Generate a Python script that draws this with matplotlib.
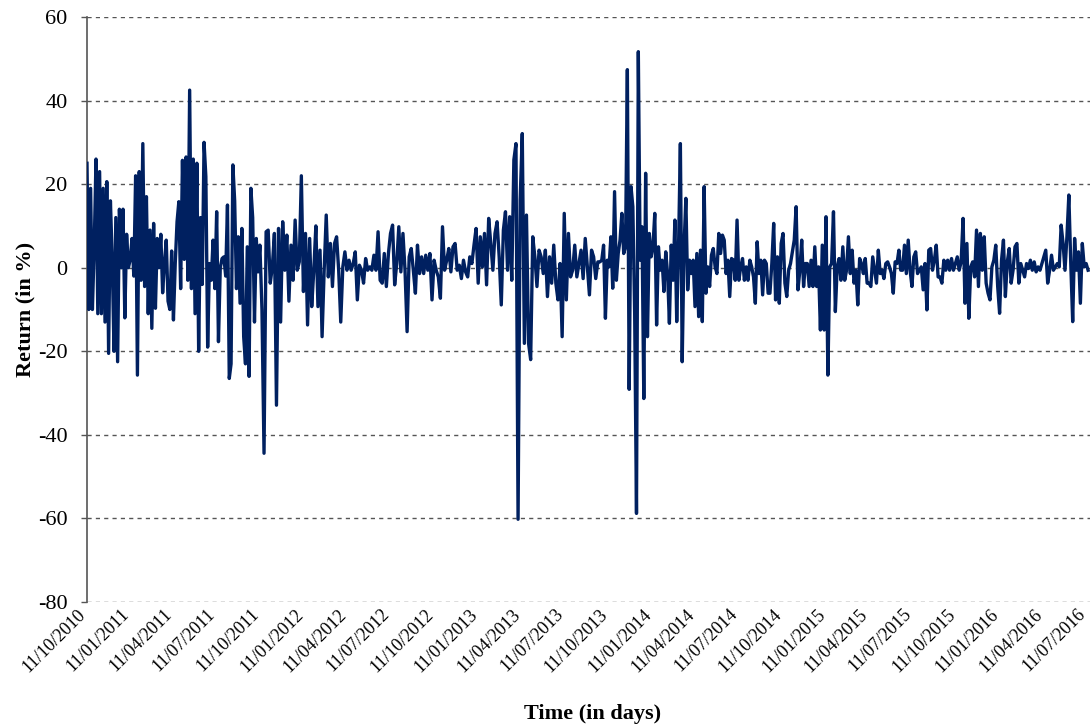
import numpy as np
import pandas as pd
import matplotlib
matplotlib.use('Agg')
import matplotlib.pyplot as plt
import matplotlib.transforms as mtransforms

plt.rcParams['font.family'] = ['Liberation Serif', 'DejaVu Serif']

# daily returns (in %), one list per stretch of time
ret_oct10_oct11 = [25, -10, 19, -10, 5, 26, -11, 23, -11, 19, -13, 20.6, -20.5, 16, 2, -20,
                   12, -22.5, 14, 0, 14, -12, 8, 0, 2, 7, -2, 22, -25.7, 23, -3, 29.7, -4.5,
                   17, -11, 9, -14.5, 10.6, -9.7, 7, 0, 8, -6, 1, 6.6, -8, -10, 4, -12.5, 1,
                   11, 15.8, -5, 25.7, 2, 26.5, -3, 42.5, -5, 26, -11, 25, -20, 12, -4, 30,
                   21.8, -19, 1, -3, 6.6, -5, 13.4, -17.7, 0, 2.2, 2.6, -2, 15, -26.5, -23,
                   24.6, 16, -5, 7.4, -8.5, 9.4, -16.5, -23, 5, -26, 19, 12, -13, 7, -1]
ret_oct11_sep12 = [5.4, -10, -44.4, 8.6, 9, -3.7, 0.2, 8.2, -32.9, 9.4, -13, 11, -0.6, 7.8,
                   -8, 5.4, -3, 11.4, -0.6, 1.4, 22, -5.7, 8.2, -13.7, 7, -9.3, -0.6, 10,
                   -9.3, 4.2, -16.5, -0.6, 12.6, -2.2, 5.8, -4.5, 5.8, 7.4, -0.6, -13, 0.2,
                   3.8, -0.6, 1.8, -0.6, 1, 3.8, -7.7, 0.6, -0.6, -3.7, 2.2, -0.6, 0.2, -0.6,
                   3, -0.6, 8.6, -3, -3.7, 3.4, -4.5, 3.4, 8.2, 10.2, -4.1, 1, 9.8, -1, 8.2,
                   -0.6, -15.3, 2.6, 4.6, -0.6, -6.1, 5.4, -1.4, 2.6, -1.4, 3, -0.6]
ret_sep12_sep13 = [3.4, -7.7, 1.8, -0.6, -2.2, -7.3, 9.8, -0.6, 1.8, 4.6, -1, 5, 5.8, -0.6,
                   0.6, -2.6, 1.8, -1, -2.2, 2.6, 1, 5.4, 9.4, -3.7, 7.4, 0.2, 8.2, -4.1,
                   11.8, 5.8, -0.6, 8.2, 11, 2.6, -8.9, 9, 13.4, -0.6, 12.2, -3, 25.8, 29.7,
                   -60.2, 16.2, 32.1, -18.1, 12.6, -18.1, -22, 7.4, 2.6, -4.5, 4.2, 2.6, -1.4,
                   4.2, -6.9, 2.6, -3.7, 5.4, -3.7, -7.7, 1, -16.5, 13, -7.7, 8.2, -2.2, -0.6,
                   5.4, -2.2, 1, 4.2, -2.6, 7, 0.2, -6.5, 4.2, 2.6, -2.6, 1.4]
ret_sep13_sep14 = [1.4, 1.8, 5.4, -12.1, 1.8, 0.2, 7.4, -4.9, 18.2, -3, 3.4, 6.6, 13, 3.4, 5,
                   47.4, -29.1, 19.4, 14.6, -10.9, -58.8, 51.7, 1.8, 9.8, -31.3, 22.6, -16.5,
                   8.2, 2.6, 5, 13, -13.7, 5, -0.6, 1.8, -5.7, 3.8, -1.4, -13.3, 5.4, -3,
                   11.4, -12.9, 5, 29.7, -22.5, 5, 16.6, -5.3, 1.8, -1.4, 1.8, -9.3, 3.4,
                   -11.7, 4.2, -12.9, 19.4, -6.1, 0.2, -4.5, 3, 4.6, 0.2, -1.4, 8.2, 3.4, 7.8,
                   6.6, -1.4, 1.8, -6.9, 2.2, 1.8, -3, 11.4, -3, 0.2, 2.2, -3, 0.2, -3, 1.8,
                   0.2, -2.2, -8.5, 6.2, -1.4, 1.8, -6.5, 1.8, 1, -6.1]
ret_sep14_sep15 = [-6.1, 1, 10.6, -7.7, 2.6, -8.5, 5.8, 8.2, -3.7, -6.9, -0.6, 1, 3.8, 6.6,
                   14.6, -5.3, -0.6, 6.6, -4.5, 1, 1, -4.5, 1.8, -4.5, 5, -4.5, 0.2, -14.9,
                   5.4, -14.9, 12.2, -25.7, 0.2, 1, 13.4, -10.5, 0.2, 2.2, -3, 5, -3, -0.6,
                   7.4, -1.4, 4.2, -3.7, -0.6, -8.9, 2.2, 1, -1.4, 2.2, -3.7, -3.7, -4.5, 2.6,
                   -0.6, -3.7, 4.2, -1.4, -0.6, -2.6, 1, 1.4, 0.2, -1.4, -6.1, 1.4, 1, 4.2,
                   -0.6, -0.6, 5.4, -1.4, 6.6, -0.6, -4.5, 2.6, 3.8, -1.4, -0.6, 0.2, -5.3, 1,
                   -10.1, 4.2, 4.6, -0.6, 1.8, 5.4, -2.2]
ret_sep15_jul16 = [-2.2, -3.7, 1.8, -0.6, 1.8, -0.6, 2.2, -0.6, 1, 2.6, -0.6, 1.4, 11.8, -8.5,
                   5.8, -12.1, 0.2, 1.4, -2.2, 9, -4.5, 8.2, -0.6, 7.4, -3.7, -6.1, -7.7, 0.2,
                   1.8, 5.4, -4.5, -10.9, 1.8, 6.6, -6.9, 1.4, 4.6, -3.7, -0.6, 5, 5.8, -3.7,
                   1, -0.6, -2.2, 1, -0.2, 1.8, -0.6, 1.4, -1, 0.2, -0.6, 1, 2.6, 4.2, -3.7,
                   -0.6, 3, -0.6, 0.2, 1, 0.2, 10.2, 5.8, -0.6, 7.4, 17.4, 1, -12.9, 7, -0.6,
                   3.8, -8.5, 5.8, 0.2, 1, -0.6]

period_edges = ['2010-10-11', '2011-10-09', '2012-09-30', '2013-09-22',
                '2014-09-14', '2015-09-06', '2016-07-17']
periods = [ret_oct10_oct11, ret_oct11_sep12, ret_sep12_sep13,
           ret_sep13_sep14, ret_sep14_sep15, ret_sep15_jul16]

dates = []
values = []
for i, seg in enumerate(periods):
    d = pd.date_range(period_edges[i], period_edges[i + 1], periods=len(seg) + 1)[:-1]
    dates.extend(d)
    values.extend(seg)

tick_dates = pd.date_range('2010-10-01', '2016-07-01', freq='3MS') + pd.Timedelta(days=10)
tick_labels = [d.strftime('%d/%m/%Y') for d in tick_dates]
y_ticks = [60, 40, 20, 0, -20, -40, -60, -80]

fig = plt.figure(figsize=(10.91, 7.26), dpi=100)
ax = fig.add_axes([87 / 1091, 1 - 602 / 726, (1090 - 87) / 1091, 585 / 726])

ax.plot(dates, values, color='#002060', lw=2.4, solid_joinstyle='round', zorder=3)

ax.set_ylim(-80, 60)
ax.set_xlim(pd.Timestamp(period_edges[0]), pd.Timestamp(period_edges[-1]))
ax.set_yticks(y_ticks)
ax.set_yticklabels([str(v) for v in y_ticks], fontsize=16)
ax.set_xticks(tick_dates)
ax.set_xticklabels(tick_labels, rotation=45, ha='right', va='center',
                   rotation_mode='anchor', fontsize=13)
ax.tick_params(axis='x', length=0, pad=7)
ax.tick_params(axis='y', length=4, width=1, color='#555555', pad=10)

shift = mtransforms.ScaledTranslation(-3 / 72, 0, fig.dpi_scale_trans)
for lab in ax.get_xticklabels():
    lab.set_transform(lab.get_transform() + shift)

ax.yaxis.grid(True, linestyle=(0, (3, 3)), color='#555555', lw=1)
ax.set_axisbelow(True)
for s in ['top', 'right', 'bottom']:
    ax.spines[s].set_visible(False)
ax.spines['left'].set_color('#555555')
ax.spines['left'].set_linewidth(1.2)

ax.set_ylabel('Return (in %)', fontsize=16, fontweight='bold')
ax.yaxis.set_label_coords(-0.051, 0.5)
ax.set_xlabel('Time (in days)', fontsize=16, fontweight='bold')
ax.xaxis.set_label_coords(0.504, -0.175)

fig.savefig('out.png', dpi=100)
